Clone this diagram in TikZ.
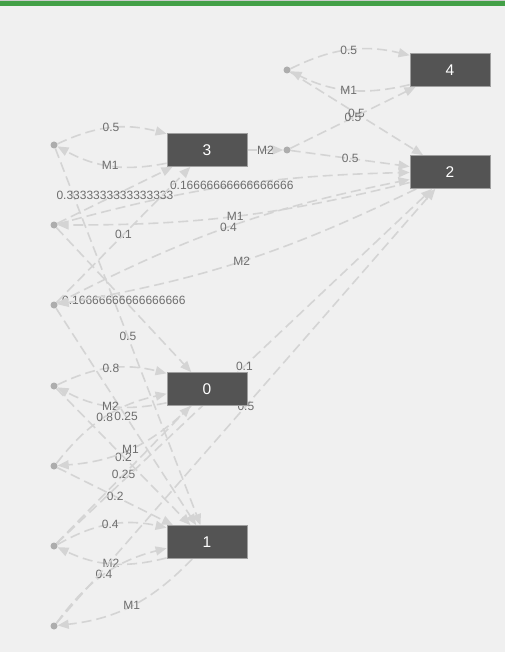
\documentclass[tikz,border=0pt]{standalone}
\usepackage{fontspec}
\setmainfont{Liberation Sans}
\usetikzlibrary{arrows.meta}
\definecolor{bgcol}{HTML}{F0F0F0}
\definecolor{barcol}{HTML}{43A047}
\definecolor{edgecol}{HTML}{D4D4D4}
\definecolor{boxcol}{HTML}{545454}
\definecolor{lblcol}{HTML}{6E6E6E}
\definecolor{dotcol}{HTML}{ADADAD}
\pgfdeclarelayer{back}
\pgfdeclarelayer{edges}
\pgfsetlayers{back,edges,main}

\begin{document}
\begin{tikzpicture}[x=1pt,y=1pt]
\tikzstyle{every node}+=[inner sep=0pt]
\tikzstyle{mdpstate}=[draw=gray!75,fill=boxcol,line width=0.8pt,minimum width=80pt,minimum height=33pt,text=white,font=\fontsize{15.5}{18}\selectfont]
\tikzstyle{act}=[circle,fill=dotcol,minimum size=7pt]
\tikzstyle{trans}=[draw=edgecol,line width=1.6pt,dash pattern=on 10pt off 5pt,-{Triangle[length=11pt,width=9pt]}]
\tikzstyle{prob}=[text=lblcol,font=\fontsize{12}{14}\selectfont]
\begin{pgfonlayer}{back}
\fill [bgcol] (0,0) rectangle (505,-652);
\fill [gray!40] (0,0) rectangle (505,-1.5);
\fill [barcol] (0,-1.5) rectangle (505,-6.5);
\end{pgfonlayer}
\useasboundingbox (0,0) rectangle (505,-652);
\node [mdpstate] (s4) at (450,-70) {4};
\node [mdpstate] (s3) at (207,-150) {3};
\node [mdpstate] (s2) at (450,-172) {2};
\node [mdpstate] (s0) at (207,-389) {0};
\node [mdpstate] (s1) at (207,-542) {1};
\node [act] (a4m1) at (287,-70) {};
\node [act] (a3m2) at (287,-150) {};
\node [act] (a3m1) at (54,-145) {};
\node [act] (a2m1) at (54,-225) {};
\node [act] (a2m2) at (54,-305) {};
\node [act] (a0m2) at (54,-386) {};
\node [act] (a0m1) at (54,-466) {};
\node [act] (a1m2) at (54,-546) {};
\node [act] (a1m1) at (54,-626) {};
\begin{pgfonlayer}{edges}
\draw [trans] (s4) to [bend left=20] node [prob] {M1} (a4m1);
\draw [trans] (a4m1) to [bend left=20] node [prob] {0.5} (s4);
\draw [trans] (a4m1) -- node [prob] {0.5} (s2);
\draw [trans] (s3) -- node [prob] {M2} (a3m2);
\draw [trans] (a3m2) -- node [prob] {0.5} (s4);
\draw [trans] (a3m2) -- node [prob] {0.5} (s2);
\draw [trans] (s3) to [bend left=20] node [prob] {M1} (a3m1);
\draw [trans] (a3m1) to [bend left=20] node [prob] {0.5} (s3);
\draw [trans] (a3m1) -- node [prob] {0.5} (s1);
\draw [trans] (s2) to [bend left=7] node [prob] {M1} (a2m1);
\draw [trans] (a2m1) to [bend left=7] node [prob] {0.16666666666666666} (s2);
\draw [trans] (a2m1) -- node [prob] {0.3333333333333333} (s3);
\draw [trans] (a2m1) -- node [prob] {0.16666666666666666} (s0);
\draw [trans] (s2) to [bend left=8] node [prob] {M2} (a2m2);
\draw [trans] (a2m2) to [bend left=8] node [prob] {0.4} (s2);
\draw [trans] (a2m2) -- node [prob] {0.1} (s3);
\draw [trans] (a2m2) -- node [prob] {0.25} (s1);
\draw [trans] (s0) to [bend left=20] node [prob] {M2} (a0m2);
\draw [trans] (a0m2) to [bend left=20] node [prob] {0.8} (s0);
\draw [trans] (a0m2) -- node [prob] {0.2} (s1);
\draw [trans] (s0) to [bend left=20] node [prob] {M1} (a0m1);
\draw [trans] (a0m1) to [bend left=20] node [prob] {0.8} (s0);
\draw [trans] (a0m1) -- node [prob] {0.2} (s1);
\draw [trans] (s1) to [bend left=20] node [prob] {M2} (a1m2);
\draw [trans] (a1m2) to [bend left=21] node [prob] {0.4} (s1);
\draw [trans] (a1m2) -- node [prob] {0.25} (s0);
\draw [trans] (a1m2) -- node [prob] {0.1} (s2);
\draw [trans] (s1) to [bend left=20] node [prob] {M1} (a1m1);
\draw [trans] (a1m1) to [bend left=20] node [prob] {0.4} (s1);
\draw [trans] (a1m1) -- node [prob] {0.5} (s2);
\end{pgfonlayer}
\end{tikzpicture}
\end{document}
